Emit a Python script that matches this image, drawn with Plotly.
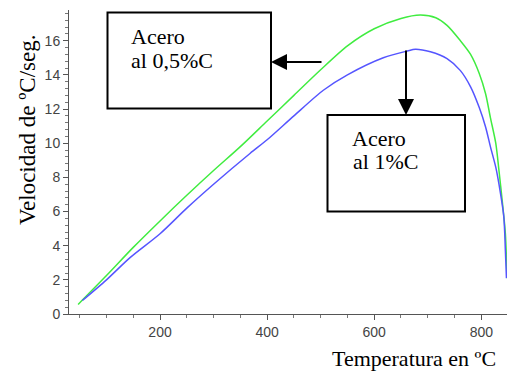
import plotly.graph_objects as go

# Data
temp_05 = [47, 100, 150, 200, 250, 300, 350, 400, 450, 500, 550, 600, 650, 686,
           715, 736, 761, 780, 796, 808, 817, 827, 833, 839, 845, 848]
vel_05 = [0.56, 2.25, 3.9, 5.45, 6.95, 8.4, 9.8, 11.3, 12.8, 14.3, 15.7, 16.7, 17.3, 17.5,
          17.35, 16.9, 16.0, 15.2, 14.1, 12.9, 11.5, 10.0, 8.4, 6.65, 4.7, 2.1]

temp_1 = [55, 100, 144, 200, 250, 300, 368, 400, 450, 505, 550, 617, 662, 677,
          705, 736, 761, 780, 796, 808, 817, 827, 833, 842, 845, 847]
vel_1 = [0.79, 2.0, 3.3, 4.7, 6.2, 7.6, 9.4, 10.2, 11.6, 13.1, 14.0, 15.0, 15.4, 15.5,
         15.35, 14.95, 14.25, 13.3, 12.1, 10.95, 9.8, 8.6, 7.6, 5.7, 3.7, 2.1]

x_ticks = [200, 400, 600, 800]
y_ticks = [0, 2, 4, 6, 8, 10, 12, 14, 16]

W, H = 507, 372
L, R, T, B = 69, 0, 10, 58
PW, PH = W - L - R, H - T - B


def px(x):
    return (x - L) / PW


def py(y):
    return (H - B - y) / PH


fig = go.Figure()
fig.add_trace(go.Scatter(x=temp_05, y=vel_05, mode="lines", line=dict(color="#40ec40", width=1.5, shape="spline", smoothing=0.8),
                         name="Acero al 0,5%C", showlegend=False, cliponaxis=False))
fig.add_trace(go.Scatter(x=temp_1, y=vel_1, mode="lines", line=dict(color="#5555ff", width=1.5, shape="spline", smoothing=0.8),
                         name="Acero al 1%C", showlegend=False, cliponaxis=False))

serif = "Liberation Serif, Times New Roman, serif"
sans = "Liberation Sans, Arial, sans-serif"

fig.update_layout(
    width=W, height=H,
    margin=dict(l=L, r=R, t=T, b=B, pad=0),
    paper_bgcolor="white", plot_bgcolor="white",
    xaxis=dict(range=[30, 848], tickvals=x_ticks, ticks="outside", ticklen=5, tickcolor="#555",
               showline=True, linecolor="#555", linewidth=1, showgrid=False, zeroline=False,
               tickfont=dict(family=sans, size=14, color="#444"),
               minor=dict(dtick=50, tick0=0, ticks="outside", ticklen=3, tickcolor="#777", showgrid=False)),
    yaxis=dict(range=[0, 17.8], tickvals=y_ticks, ticks="outside", ticklen=5, tickcolor="#555",
               showline=True, linecolor="#555", linewidth=1, showgrid=False, zeroline=False,
               tickfont=dict(family=sans, size=14, color="#444"),
               minor=dict(dtick=0.4, tick0=0, ticks="outside", ticklen=3, tickcolor="#777", showgrid=False)),
)

# Boxes
fig.add_shape(type="rect", xref="paper", yref="paper", x0=px(107.5), x1=px(271), y0=py(108.5), y1=py(12.5),
              line=dict(color="black", width=2), fillcolor="rgba(0,0,0,0)")
fig.add_shape(type="rect", xref="paper", yref="paper", x0=px(327.5), x1=px(465), y0=py(211.5), y1=py(115),
              line=dict(color="black", width=2), fillcolor="rgba(0,0,0,0)")

# Box texts (centred on the positions measured in the reference)
def txt(s, x, y, size=22):
    fig.add_annotation(text=s, xref="paper", yref="paper", x=px(x), y=py(y), xanchor="center", yanchor="middle",
                       showarrow=False, font=dict(family=serif, size=size, color="black"))

txt("Acero", 158, 36)
txt("al 0,5%C", 172, 60)
txt("Acero", 379, 138)
txt("al 1%C", 385, 161)

# Arrows
fig.add_annotation(text="", xref="paper", yref="paper", x=px(271), y=py(62), ax=52, ay=0,
                   showarrow=True, arrowhead=2, arrowsize=1.6, arrowwidth=2, arrowcolor="black", standoff=0)
fig.add_annotation(text="", xref="paper", yref="paper", x=px(406), y=py(115), ax=0, ay=-66,
                   showarrow=True, arrowhead=2, arrowsize=1.6, arrowwidth=2, arrowcolor="black", standoff=0)

# Axis titles
fig.add_annotation(text="Temperatura en ºC", xref="paper", yref="paper", x=px(498), y=py(358),
                   xanchor="right", yanchor="middle", showarrow=False,
                   font=dict(family=serif, size=22, color="black"))
fig.add_annotation(text="Velocidad de ºC/seg.", xref="paper", yref="paper", x=px(27), y=py(130),
                   xanchor="center", yanchor="middle", textangle=-90, showarrow=False,
                   font=dict(family=serif, size=23, color="black"))

fig.write_html("out.html", config={"displayModeBar": False},
               post_script="document.body.style.margin='0';document.body.style.overflow='hidden';")
